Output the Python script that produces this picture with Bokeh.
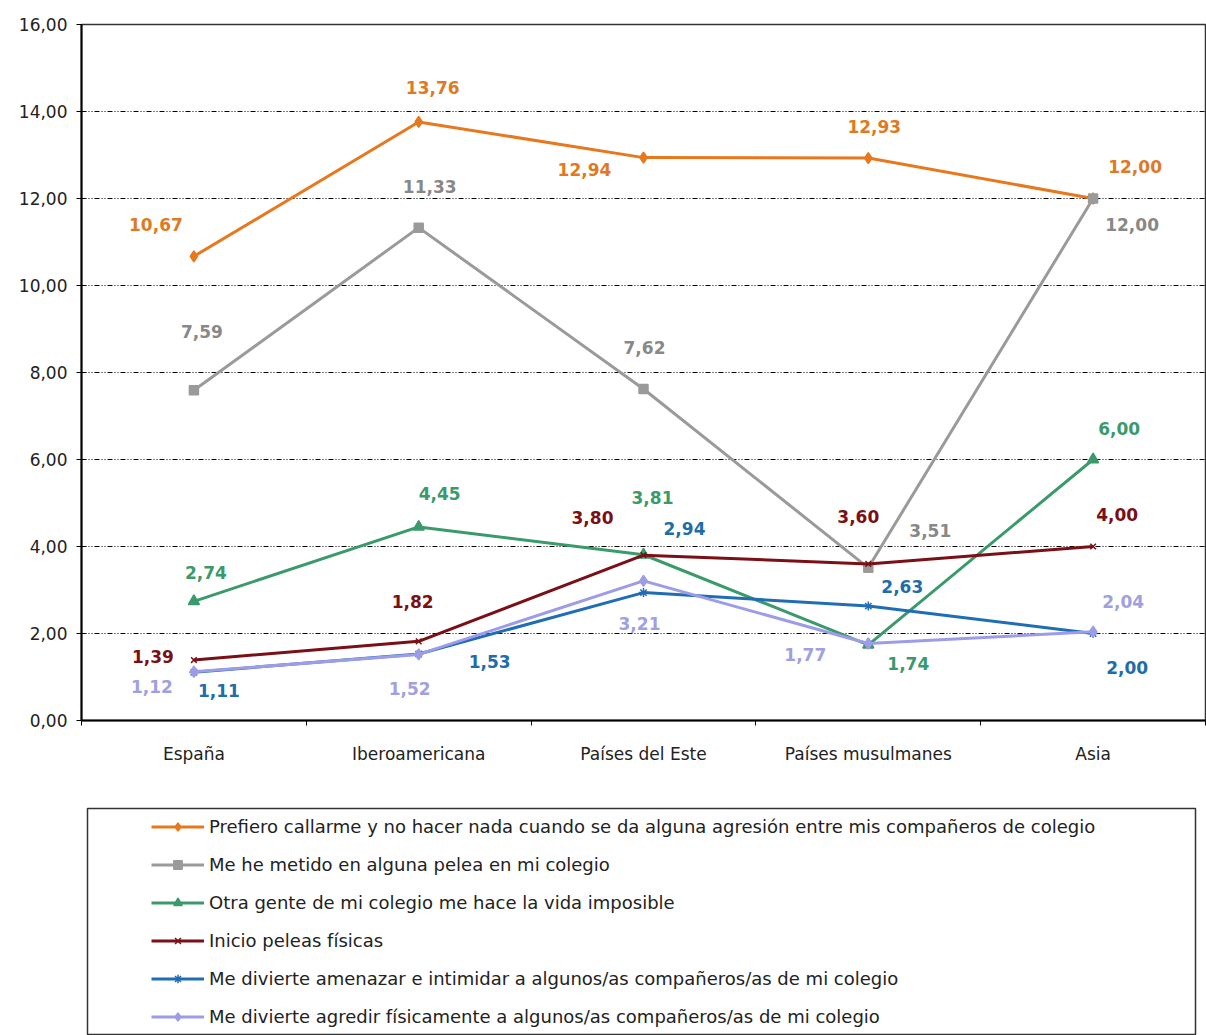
from bokeh.plotting import figure
from bokeh.models import Range1d, FixedTicker, Legend, LegendItem, ColumnDataSource
from bokeh.core.properties import value
from bokeh.embed import file_html
from bokeh.resources import INLINE

# ---------------- data ----------------
categories = ["España", "Iberoamericana", "Países del Este", "Países musulmanes", "Asia"]

series_names = [
    "Prefiero callarme y no hacer nada cuando se da alguna agresión entre mis compañeros de colegio",
    "Me he metido en alguna pelea en mi colegio",
    "Otra gente de mi colegio me hace la vida imposible",
    "Inicio peleas físicas",
    "Me divierte amenazar e intimidar a algunos/as compañeros/as de mi colegio",
    "Me divierte agredir físicamente a algunos/as compañeros/as de mi colegio",
]

prefiero_callarme = [10.67, 13.76, 12.94, 12.93, 12.00]
pelea_colegio = [7.59, 11.33, 7.62, 3.51, 12.00]
vida_imposible = [2.74, 4.45, 3.81, 1.74, 6.00]
inicio_peleas = [1.39, 1.82, 3.80, 3.60, 4.00]
amenazar = [1.11, 1.53, 2.94, 2.63, 2.00]
agredir = [1.12, 1.52, 3.21, 1.77, 2.04]

y_ticks = [0, 2, 4, 6, 8, 10, 12, 14, 16]
y_tick_labels = ["0,00", "2,00", "4,00", "6,00", "8,00", "10,00", "12,00", "14,00", "16,00"]

all_series = [prefiero_callarme, pelea_colegio, vida_imposible, inicio_peleas, amenazar, agredir]

# ---------------- styles ----------------
line_colors = ["#E8781E", "#9A9A9A", "#3A9A6C", "#7A1016", "#1F6DB5", "#9C9CE8"]
label_colors = ["#E07A22", "#888888", "#3A9A6C", "#7A1016", "#1F6DA8", "#A0A0E0"]
markers = ["diamond", "square", "triangle", "x", "asterisk", "diamond"]
marker_sizes = [11, 9, 11, 8, 9, 11]

# label offsets in screen pixels (dx, dy) relative to each point (dy: down positive)
label_offsets = [
    [(-38, -32), (14, -34), (-59, 12), (6, -32), (42, -32)],
    [(8, -59), (11, -41), (1, -42), (62, -37), (39, 26)],
    [(12, -29), (21, -33), (9, -57), (40, 19), (26, -31)],
    [(-41, -4), (-6, -40), (-51, -38), (-10, -47), (24, -32)],
    [(25, 18), (71, 8), (41, -64), (34, -20), (34, 34)],
    [(-42, 15), (-9, 34), (-4, 43), (-63, 11), (30, -30)],
]

W = 1206
H1 = 790
H2 = 1035 - H1
FL, FR, FT, FB = 81, 1205, 24, 720

p = figure(width=W, height=H1, output_backend="svg", toolbar_location=None,
           x_range=Range1d(0, len(categories)), y_range=Range1d(0, 16),
           min_border_left=FL, min_border_right=W - FR, min_border_top=FT,
           min_border_bottom=H1 - FB)
p.background_fill_color = "white"
p.border_fill_color = "white"
p.outline_line_color = "#333333"
p.outline_line_width = 1.5

x_pos = [i + 0.5 for i in range(len(categories))]

# axes
p.xaxis.ticker = FixedTicker(ticks=x_pos, minor_ticks=list(range(len(categories) + 1)))
p.xaxis.major_label_overrides = {x: c for x, c in zip(x_pos, categories)}
p.xaxis.major_tick_line_color = None
p.xaxis.major_tick_out = 0
p.xaxis.major_tick_in = 0
p.xaxis.minor_tick_in = 0
p.xaxis.minor_tick_out = 5
p.xaxis.minor_tick_line_color = "black"
p.xaxis.axis_line_color = "black"
p.xaxis.axis_line_width = 2
p.xaxis.major_label_standoff = 18
p.xaxis.major_label_text_font = "DejaVu Sans"
p.xaxis.major_label_text_font_size = "17px"
p.xaxis.major_label_text_color = "#222222"

p.yaxis.ticker = FixedTicker(ticks=y_ticks)
p.yaxis.major_label_overrides = {t: l for t, l in zip(y_ticks, y_tick_labels)}
p.yaxis.major_tick_in = 0
p.yaxis.major_tick_out = 5
p.yaxis.minor_tick_line_color = None
p.yaxis.axis_line_color = "black"
p.yaxis.axis_line_width = 2
p.yaxis.major_label_standoff = 9
p.yaxis.major_label_text_font = "DejaVu Sans"
p.yaxis.major_label_text_font_size = "17px"
p.yaxis.major_label_text_color = "#222222"

p.xgrid.grid_line_color = None
p.ygrid.ticker = FixedTicker(ticks=y_ticks[1:-1])
p.ygrid.grid_line_color = "black"
p.ygrid.grid_line_width = 1
p.ygrid.grid_line_dash = "5 2 1 2 1 2"

# legend figure (box under the chart)
LB_L, LB_R, LB_T = 87, 1195, 808
p2 = figure(width=W, height=H2, output_backend="svg", toolbar_location=None,
            x_range=Range1d(0, 1), y_range=Range1d(0, 1),
            x_axis_type=None, y_axis_type=None,
            min_border_left=LB_L, min_border_right=W - LB_R,
            min_border_top=LB_T - H1, min_border_bottom=0)
p2.grid.visible = False
p2.outline_line_color = "#333333"
p2.outline_line_width = 1.5
p2.background_fill_color = "white"
p2.border_fill_color = "white"

label_sources = []
legend_items = []
for i, vals in enumerate(all_series):
    src = ColumnDataSource(dict(
        x=x_pos, y=vals,
        txt=[f"{v:.2f}".replace(".", ",") for v in vals],
        dx=[o[0] for o in label_offsets[i]],
        dy=[o[1] for o in label_offsets[i]],
    ))
    p.line("x", "y", source=src, line_color=line_colors[i], line_width=3)
    p.scatter("x", "y", source=src, marker=markers[i], size=marker_sizes[i],
              fill_color=line_colors[i], line_color=line_colors[i], line_width=1.5)
    label_sources.append(src)
    # same series in the legend panel (hidden), only used for the legend samples
    lr = p2.line("x", "y", source=src, line_color=line_colors[i], line_width=3, visible=False)
    sr = p2.scatter("x", "y", source=src, marker=markers[i], size=marker_sizes[i],
                    fill_color=line_colors[i], line_color=line_colors[i], line_width=1.5,
                    visible=False)
    legend_items.append(LegendItem(label=series_names[i], renderers=[lr, sr]))

for i, src in enumerate(label_sources):
    p.text("x", "y", text="txt", source=src, x_offset="dx", y_offset="dy",
           text_align="center", text_baseline="middle",
           text_font=value("DejaVu Sans"), text_font_style="bold", text_font_size="17px",
           text_color=label_colors[i], background_fill_color="white")

n = len(legend_items)
pad, spacing, item_h = 8, 17, 21
leg_h = 2 * pad + n * item_h + (n - 1) * spacing
frame_h = H2 - (LB_T - H1)
legend = Legend(items=legend_items,
                location=(152 - LB_L - pad + 7, frame_h - leg_h + 8),
                padding=pad, spacing=spacing, glyph_width=53, glyph_height=item_h,
                label_height=item_h, label_standoff=5,
                label_text_font="DejaVu Sans", label_text_font_size="18px",
                label_text_color="#222222",
                border_line_color=None, background_fill_alpha=0.0,
                margin=0)
p2.add_layout(legend)

open("out.html", "w").write(file_html([p, p2], INLINE))
